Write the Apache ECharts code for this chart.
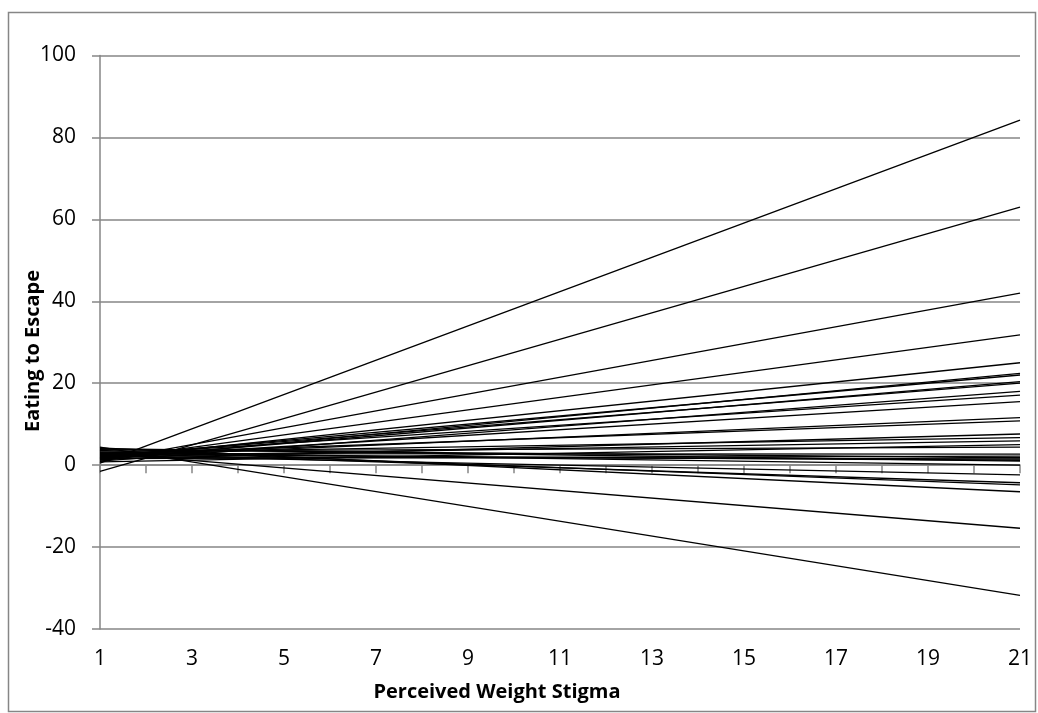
<!DOCTYPE html>
<html>
<head>
<meta charset="utf-8">
<script src="https://cdn.jsdelivr.net/npm/echarts@6/dist/echarts.min.js"></script>
<style>
html,body{margin:0;padding:0;background:#fff;}
#chart{width:1038px;height:713px;}
</style>
</head>
<body>
<div id="chart"></div>
<script>
// x positions of the line ends (Perceived Weight Stigma)
const xFirst = 1;
const xLast = 21;
// each line's value at x = 1 and at x = 21 (Eating to Escape)
const startValues = [0.5, -1.5, 0.9, 1.3, 1.6, 1.2, 2.0, 1.5, 2.2, 1.0, 2.4, 1.8, 2.0, 2.6, 1.4, 3.0, 2.2, 0.8, 3.4, 2.8, 1.6, 3.8, 2.0, 2.6, 4.0, 3.2, 2.4, 3.0, 3.6, 4.2, 3.0, 4.4];
const endValues   = [84.2, 63.0, 42.0, 31.8, 25.0, 22.4, 22.0, 20.4, 20.0, 18.0, 17.1, 15.5, 11.6, 10.8, 7.6, 6.7, 5.9, 5.0, 4.4, 2.7, 2.2, 1.8, 1.5, 1.2, 1.0, 0.0, -2.4, -4.3, -4.8, -6.5, -15.4, -31.8];
const yTicks = [-40, -20, 0, 20, 40, 60, 80, 100];
const xTitle = 'Perceived Weight Stigma';
const yTitle = 'Eating to Escape';

const FONT = 'Open Sans';
const chart = echarts.init(document.getElementById('chart'), null, {renderer: 'canvas'});

const series = startValues.map((s, i) => ({
  type: 'line',
  data: [[xFirst, s], [xLast, endValues[i]]],
  showSymbol: false,
  symbol: 'none',
  lineStyle: {color: '#000', width: 1.3},
  silent: true,
  animation: false
}));

chart.setOption({
  animation: false,
  grid: {left: 100, right: 18, top: 55.5, bottom: 84, containLabel: false},
  xAxis: {
    type: 'value', min: xFirst, max: xLast, interval: 1,
    axisLine: {show: true, lineStyle: {color: '#868686', width: 1.5}},
    axisTick: {show: true, length: 8, lineStyle: {color: '#868686', width: 1.5}},
    splitLine: {show: false},
    axisLabel: {
      color: '#000', fontFamily: FONT, fontSize: 21, margin: 20,
      formatter: v => (v % 2 === 1 ? String(v) : '')
    }
  },
  yAxis: {
    type: 'value', min: yTicks[0], max: yTicks[yTicks.length - 1], interval: 20,
    axisLine: {show: true, lineStyle: {color: '#868686', width: 1.5}},
    axisTick: {show: true, length: 8, lineStyle: {color: '#868686', width: 1.5}},
    splitLine: {show: true, lineStyle: {color: '#868686', width: 1.5}},
    axisLabel: {color: '#000', fontFamily: FONT, fontSize: 21, margin: 24}
  },
  graphic: [
    {type: 'rect', shape: {x: 8.5, y: 12.5, width: 1027, height: 699}, style: {fill: 'none', stroke: '#868686', lineWidth: 1.5}, silent: true},
    {type: 'text', x: 497, y: 692, style: {text: xTitle, font: 'bold 20px "Open Sans"', fill: '#000', textAlign: 'center', textVerticalAlign: 'middle'}},
    {type: 'text', x: 33, y: 351, rotation: Math.PI / 2, style: {text: yTitle, font: 'bold 20px "Open Sans"', fill: '#000', textAlign: 'center', textVerticalAlign: 'middle'}}
  ],
  series: series
});
</script>
</body>
</html>
